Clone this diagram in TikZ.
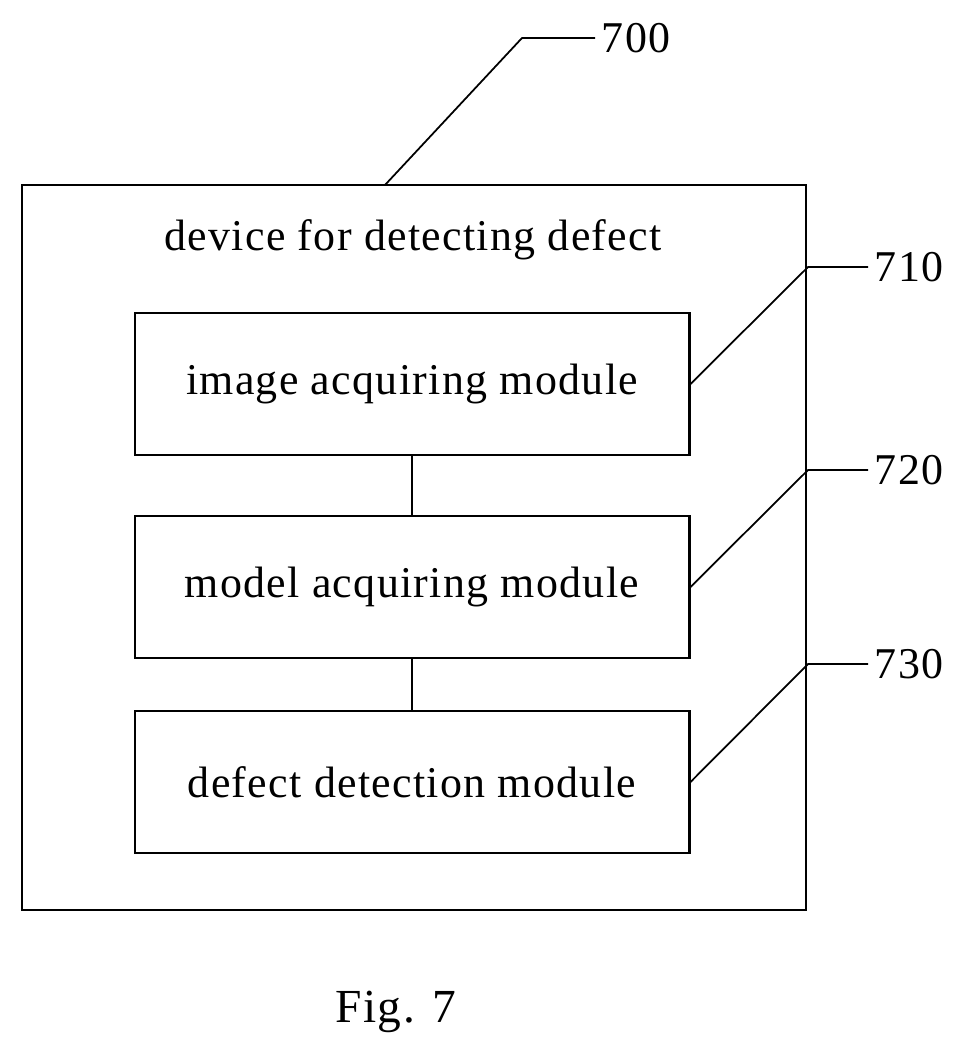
\documentclass[tikz,border=0pt]{standalone}
\usepackage{fontspec}
\setmainfont{Liberation Serif}
\begin{document}
\begin{tikzpicture}[x=0.02cm,y=-0.02cm,
	box/.style={draw,line width=1.2pt,minimum width=11.1cm,minimum height=2.84cm,font=\fontsize{25}{28}\selectfont\addfontfeature{LetterSpace=3}},
	lbl/.style={font=\fontsize{25}{28}\selectfont\addfontfeature{LetterSpace=3}}]
	\useasboundingbox (0,0) rectangle (978,1061);
	\draw[line width=1.2pt] (22,185) rectangle (806,910);%aussen
	\node[lbl] (title) at (413,240) {device for detecting defect};
	
	\node[box] (img) at (412,384) {image acquiring module};
	\node[box] (mod) at (412,587) {model acquiring module};
	\node[box] (det) at (412,782) {defect detection module};
	\draw[line width=1pt] (img) -- (mod);
	\draw[line width=1pt] (mod) -- (det);
	
	%Bezugslinien
	\coordinate (a0) at (385,185);
	\draw[line width=1pt] (a0) -- (522,38) -- (595,38) node[right,lbl] (n700) {700};
	\draw[line width=1pt] (img.east) -- (808,267) -- (868,267) node[right,lbl] (n710) {710};
	\draw[line width=1pt] (mod.east) -- (808,470) -- (868,470) node[right,lbl] (n720) {720};
	\draw[line width=1pt] (det.east) -- (808,664) -- (868,664) node[right,lbl] (n730) {730};
	
	\node[font=\fontsize{27}{30}\selectfont\addfontfeature{LetterSpace=3}] (fig) at (396,1012) {Fig. 7};
\end{tikzpicture}
\end{document}
